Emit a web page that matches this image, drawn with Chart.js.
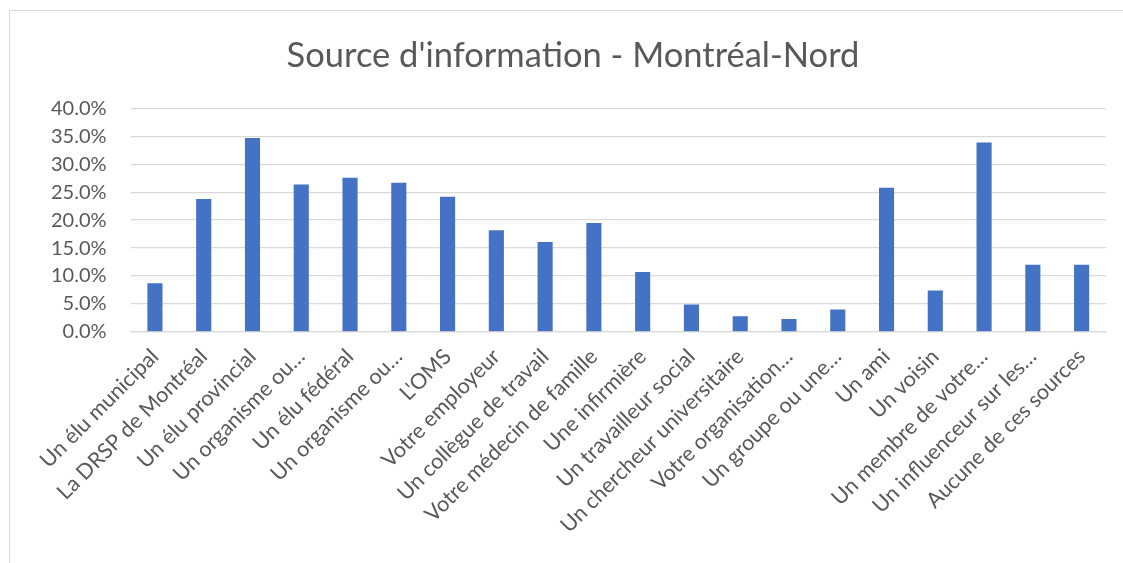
<!DOCTYPE html>
<html>
<head>
<meta charset="utf-8">
<script src="https://cdn.jsdelivr.net/npm/chart.js@4"></script>
<style>
  html, body { margin: 0; padding: 0; background: #fff; overflow: hidden; }
  #frame { position: absolute; left: 9px; top: 10px; width: 1126px; height: 560px; border: 1px solid #d9d9d9; }
  canvas { display: block; }
</style>
</head>
<body>
<div id="frame"><canvas id="myChart" width="1126" height="553"></canvas></div>
<script>
// sources d'information (libellés tronqués comme dans Excel)
const categories = [
  "Un élu municipal", "La DRSP de Montréal", "Un élu provincial", "Un organisme ou…",
  "Un élu fédéral", "Un organisme ou…", "L'OMS", "Votre employeur",
  "Un collègue de travail", "Votre médecin de famille", "Une infirmière", "Un travailleur social",
  "Un chercheur universitaire", "Votre organisation…", "Un groupe ou une…", "Un ami",
  "Un voisin", "Un membre de votre…", "Un influenceur sur les…", "Aucune de ces sources"
];
const values = [8.7, 23.8, 34.7, 26.4, 27.6, 26.7, 24.2, 18.2, 16.1, 19.5,
                10.7, 4.9, 2.8, 2.3, 4.0, 25.8, 7.4, 33.9, 12.0, 12.0];
const yTicks = [0, 5, 10, 15, 20, 25, 30, 35, 40];

const txt = '#595959';
const fontName = "Lato, 'Open Sans', sans-serif";

new Chart(document.getElementById('myChart').getContext('2d'), {
  type: 'bar',
  data: {
    labels: categories,
    datasets: [{
      label: 'Montréal-Nord',
      data: values,
      backgroundColor: '#4472C4',
      borderWidth: 0,
      barPercentage: 0.31,
      categoryPercentage: 1
    }]
  },
  options: {
    responsive: false,
    animation: false,
    layout: { padding: { left: 30, right: 30, top: 12, bottom: 22 } },
    plugins: {
      legend: { display: false },
      tooltip: { enabled: false },
      title: {
        display: true,
        text: "Source d'information - Montréal-Nord",
        color: txt,
        font: { family: fontName, size: 34.5, weight: 'normal' },
        padding: { top: 12, bottom: 32 }
      }
    },
    scales: {
      y: {
        min: 0,
        max: 40,
        afterBuildTicks: axis => { axis.ticks = yTicks.map(v => ({ value: v })); },
        afterFit: axis => { axis.width -= 13; },
        ticks: {
          color: txt,
          font: { family: fontName, size: 20 },
          padding: 24,
          callback: v => v.toFixed(1) + '%'
        },
        grid: { color: '#d9d9d9', lineWidth: 1.3, drawTicks: false },
        border: { display: false }
      },
      x: {
        ticks: {
          color: txt,
          font: { family: fontName, size: 21.5 },
          minRotation: 45,
          maxRotation: 45,
          autoSkip: false,
          padding: 4
        },
        grid: { display: false },
        border: { color: '#d9d9d9', width: 1.3 }
      }
    }
  }
});
</script>
</body>
</html>
